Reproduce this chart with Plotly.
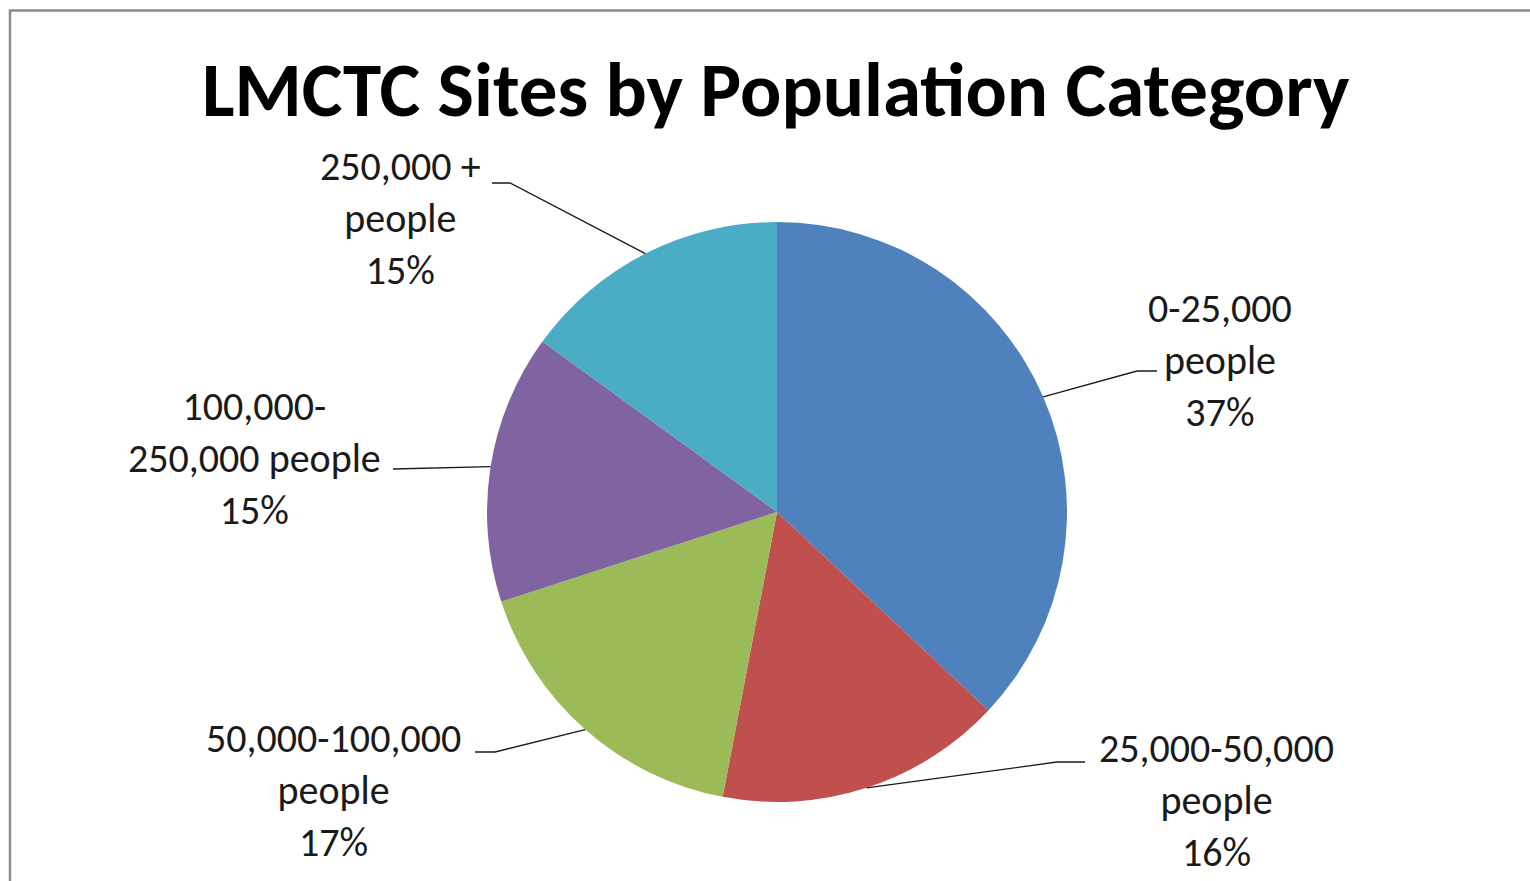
import math
import plotly.graph_objects as go

# ---- data ----
categories = ["0-25,000 people", "25,000-50,000 people", "50,000-100,000 people",
              "100,000-250,000 people", "250,000 + people"]
label_first = ["0-25,000", "25,000-50,000", "50,000-100,000", "100,000-", "250,000 +"]
label_second = ["people", "people", "people", "250,000 people", "people"]
values = [37, 16, 17, 15, 15]
colors = ["#4F81BD", "#C0504D", "#9BBB59", "#8064A2", "#4BACC6"]
title_text = "LMCTC Sites by Population Category"

# ---- layout geometry (pixels) ----
W, H = 1530, 881
cx, cy, r = 777, 512, 290
label_pos = [(1220, 360), (1216, 800), (333, 790), (254, 458), (400, 219)]
leader_bend = [(1137, 371), (1057, 762), (495, 752), (393, 469), (510, 183)]
leader_end = [(1157, 371), (1085, 762), (475, 752), (393, 469), (492, 183)]

FONT = "Carlito, Calibri, Lato, 'Open Sans', sans-serif"

def px(x):
    return x / W

def py(y):
    return 1 - y / H

fig = go.Figure(go.Pie(
    labels=categories,
    values=values,
    marker=dict(colors=colors, line=dict(width=0)),
    sort=False,
    direction="clockwise",
    rotation=0,
    textinfo="none",
    hoverinfo="label+percent",
    showlegend=False,
    domain=dict(x=[px(cx - r), px(cx + r)], y=[py(cy + r), py(cy - r)]),
))

total = sum(values)
shapes = []
annotations = []
cum = 0
for i, v in enumerate(values):
    mid = (cum + v / 2) / total
    cum += v
    ang = 2 * math.pi * mid
    sx = cx + r * math.sin(ang)
    sy = cy - r * math.cos(ang)
    bx, by = leader_bend[i]
    ex, ey = leader_end[i]
    path = f"M {px(sx)},{py(sy)} L {px(bx)},{py(by)} L {px(ex)},{py(ey)}"
    shapes.append(dict(type="path", path=path, xref="paper", yref="paper",
                       line=dict(color="#1a1a1a", width=1.3)))
    pct = round(v / total * 100)
    lx, ly = label_pos[i]
    annotations.append(dict(
        x=px(lx), y=py(ly), xref="paper", yref="paper",
        text=f"{label_first[i]}<br>{label_second[i]}<br>{pct}%",
        showarrow=False, xanchor="center", yanchor="middle", align="center",
        font=dict(family=FONT, size=40, color="#1a1a1a"),
    ))

annotations.append(dict(
    x=px(775.5), y=py(90), xref="paper", yref="paper",
    text=f"<b>{title_text}</b>", showarrow=False,
    xanchor="center", yanchor="middle",
    font=dict(family=FONT, size=77, color="#000000"),
))

# chart border (grey frame)
shapes.append(dict(type="rect", xref="paper", yref="paper",
                   x0=px(10), x1=1.05, y0=-0.05, y1=py(10.5),
                   line=dict(color="#8c8c8c", width=2.5), fillcolor="rgba(0,0,0,0)"))

fig.update_layout(
    width=W, height=H,
    margin=dict(l=0, r=0, t=0, b=0),
    paper_bgcolor="white",
    plot_bgcolor="white",
    shapes=shapes,
    annotations=annotations,
)

fig.write_html("out.html")
